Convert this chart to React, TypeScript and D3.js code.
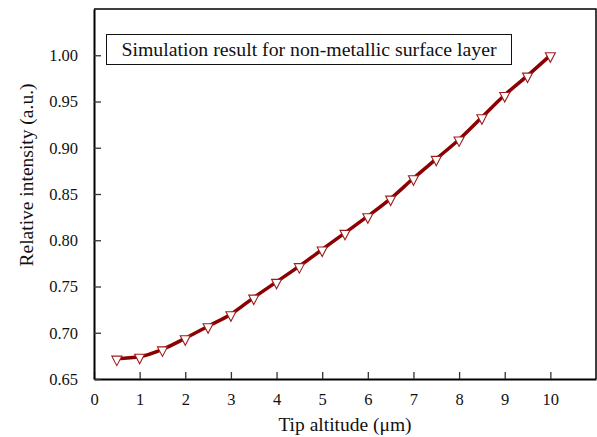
import { useEffect, useRef } from "react";
import * as d3 from "d3";

const altitudes = [0.5, 1, 1.5, 2, 2.5, 3, 3.5, 4, 4.5, 5, 5.5, 6, 6.5, 7, 7.5, 8, 8.5, 9, 9.5, 10];
const intensities = [
  0.672, 0.674, 0.682, 0.694, 0.707, 0.72, 0.738, 0.755, 0.772, 0.79,
  0.808, 0.826, 0.845, 0.867, 0.888, 0.909, 0.933, 0.957, 0.978, 1.0,
];
const xTicks = [0, 1, 2, 3, 4, 5, 6, 7, 8, 9, 10];
const yTicks = [0.65, 0.7, 0.75, 0.8, 0.85, 0.9, 0.95, 1.0];

function App() {
  const svgRef = useRef<SVGSVGElement>(null);

  useEffect(() => {
    const width = 597;
    const height = 437;
    const margin = { top: 9, right: 1, bottom: 58, left: 94 };
    const font = "Liberation Serif, Times New Roman, serif";
    const red = "#8b0000";

    const svg = d3.select(svgRef.current);
    svg.selectAll("*").remove();
    svg.attr("width", width).attr("height", height).style("font-family", font);

    const x = d3.scaleLinear().domain([0, 11]).range([margin.left, width - margin.right]);
    const y = d3.scaleLinear().domain([0.65, 1.05]).range([height - margin.bottom, margin.top]);

    const data = altitudes.map((a, i) => ({ a, v: intensities[i] }));

    // frame top and right
    svg
      .append("path")
      .attr("d", `M${x(0)},${y(1.05)}H${x(11)}V${y(0.65)}`)
      .attr("fill", "none")
      .attr("stroke", "#000")
      .attr("stroke-width", 1.5);

    // bottom axis
    const xAxis = svg
      .append("g")
      .attr("transform", `translate(0,${y(0.65)})`)
      .call(
        d3.axisBottom(x)
          .tickValues(xTicks)
          .tickFormat(d3.format("d"))
          .tickSizeInner(-7)
          .tickSizeOuter(0)
          .tickPadding(14)
      );
    xAxis.attr("font-family", null).attr("font-size", null);
    xAxis.select(".domain").attr("stroke", "#000").attr("stroke-width", 2);
    xAxis.selectAll(".tick line").attr("stroke", "#333").attr("stroke-width", 1.3);
    xAxis.selectAll("text").style("font-size", "16.5px").attr("fill", "#111");

    // left axis
    const yAxis = svg
      .append("g")
      .attr("transform", `translate(${x(0)},0)`)
      .call(
        d3.axisLeft(y)
          .tickValues(yTicks)
          .tickFormat(d3.format(".2f"))
          .tickSizeInner(-7)
          .tickSizeOuter(0)
          .tickPadding(16)
      );
    yAxis.attr("font-family", null).attr("font-size", null);
    yAxis.select(".domain").attr("stroke", "#000").attr("stroke-width", 2);
    yAxis.selectAll(".tick line").attr("stroke", "#333").attr("stroke-width", 1.3);
    yAxis.selectAll("text").style("font-size", "16.5px").attr("fill", "#111");

    // curve
    const line = d3
      .line<{ a: number; v: number }>()
      .x(d => x(d.a))
      .y(d => y(d.v))
      .curve(d3.curveMonotoneX);

    svg
      .append("path")
      .datum(data)
      .attr("d", line)
      .attr("fill", "none")
      .attr("stroke", red)
      .attr("stroke-width", 3.5);

    // open down triangles
    svg
      .selectAll("path.marker")
      .data(data)
      .enter()
      .append("path")
      .attr("class", "marker")
      .attr("transform", d => `translate(${x(d.a)},${y(d.v)})`)
      .attr("d", "M-5,-2.5L5,-2.5L0,7Z")
      .attr("fill", "#fff")
      .attr("stroke", "#a01c1c")
      .attr("stroke-width", 1.1);

    // annotation box
    svg
      .append("rect")
      .attr("x", 106.5)
      .attr("y", 34.5)
      .attr("width", 405)
      .attr("height", 30)
      .attr("fill", "#fff")
      .attr("stroke", "#111")
      .attr("stroke-width", 1);

    svg
      .append("text")
      .attr("x", 309)
      .attr("y", 56)
      .attr("text-anchor", "middle")
      .style("font-size", "19.8px")
      .attr("fill", "#111")
      .text("Simulation result for non-metallic surface layer");

    // axis titles
    svg
      .append("text")
      .attr("x", (x(0) + x(11)) / 2)
      .attr("y", 431)
      .attr("text-anchor", "middle")
      .style("font-size", "19.5px")
      .attr("fill", "#111")
      .text("Tip altitude (\u03bcm)");

    svg
      .append("text")
      .attr("transform", "rotate(-90)")
      .attr("x", -175)
      .attr("y", 33)
      .attr("text-anchor", "middle")
      .style("font-size", "19.5px")
      .attr("fill", "#111")
      .text("Relative intensity (a.u.)");
  }, []);

  return (
    <svg
      ref={svgRef}
      style={{ position: "absolute", left: 0, top: 0, display: "block", background: "#fff" }}
    ></svg>
  );
}

export default App;
